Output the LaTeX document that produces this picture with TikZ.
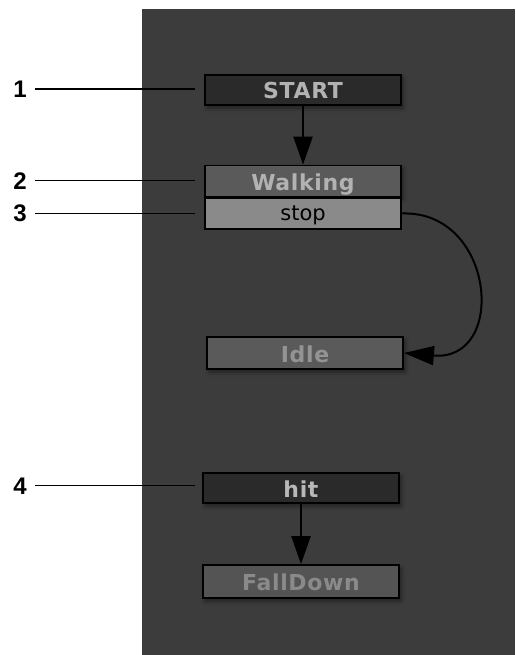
\documentclass[tikz,border=0pt]{standalone}
\usepackage{fontspec}
\setmainfont{DejaVu Sans}
\newfontfamily\statefont[LetterSpace=3]{DejaVu Sans}
\newfontfamily\labelfont{Liberation Sans}
\usetikzlibrary{arrows.meta,shadows.blur}

\definecolor{panel}{HTML}{3C3C3C}
\definecolor{darkfill}{HTML}{2A2A2A}
\definecolor{midfill}{HTML}{5A5A5A}
\definecolor{lightfill}{HTML}{8A8A8A}

\tikzset{
  statebox/.style={draw=black, line width=1.8pt, minimum width=196pt,
    minimum height=30pt, inner sep=0pt, text height=20pt, text depth=2pt,
    font=\statefont\fontsize{22}{22}\bfseries\selectfont,
    blur shadow={shadow xshift=2pt, shadow yshift=-3pt,
      shadow blur radius=4pt, shadow opacity=45}},
  entrybox/.style={statebox, fill=darkfill, text=black!30},
  stdbox/.style={statebox, fill=midfill, text=black!30},
  eventbox/.style={draw=black, line width=1.8pt, minimum width=196pt,
    minimum height=31pt, inner sep=0pt, fill=lightfill, text=black,
    text height=16pt, text depth=2pt,
    font=\fontsize{21}{21}\selectfont},
  callout/.style={font=\labelfont\fontsize{24}{24}\bfseries\selectfont,
    text=black, inner sep=0pt},
  leader/.style={line width=1.6pt, black},
  flow/.style={line width=2.4pt, black,
    -{Triangle[length=28pt, width=19pt]}},
  curveflow/.style={line width=2pt, black,
    -{Triangle[length=30pt, width=19pt]}}
}

\begin{document}
\begin{tikzpicture}[x=1pt, y=-1pt]
  \useasboundingbox (0,0) rectangle (515,655);
  % editor panel
  \fill[panel] (142,9) rectangle (515,655);

  % states
  \node[entrybox] (start) at (303,90) {START};
  \node[stdbox, minimum height=31pt] (walk) at (303,181) {Walking};
  \node[eventbox] (stop) at (303,213.5) {stop};
  \node[stdbox, minimum height=32pt, text=black!42] (idle) at (305,353) {Idle};
  \node[entrybox, text=black!28] (hit) at (301,488) {hit};
  \node[stdbox, minimum height=33pt, fill=black!67, text=black!46] (fall) at (301,581.5) {FallDown};
  % redraw the event row so its top border sits over the walking box
  \node[eventbox] at (303,213.5) {stop};

  % transitions
  \draw[flow] (start) -- (walk);
  \draw[flow] (hit) -- (fall);
  \draw[curveflow] (stop.east) .. controls (495,210) and (508,362) .. (idle.east);

  % numbered callouts
  \node[callout] (n1) at (20,89) {1};
  \node[callout] (n2) at (20,181) {2};
  \node[callout] (n3) at (20,213) {3};
  \node[callout] (n4) at (20,486) {4};
  \coordinate (s1) at (35,89);      \coordinate (e1) at (195,89);
  \coordinate (s2) at (35,180.5);   \coordinate (e2) at (195,180.5);
  \coordinate (s3) at (35,213.5);   \coordinate (e3) at (195,213.5);
  \coordinate (s4) at (35,485.5);   \coordinate (e4) at (195,485.5);
  \draw[leader] (s1) -- (e1);
  \draw[leader] (s2) -- (e2);
  \draw[leader] (s3) -- (e3);
  \draw[leader] (s4) -- (e4);
\end{tikzpicture}
\end{document}
